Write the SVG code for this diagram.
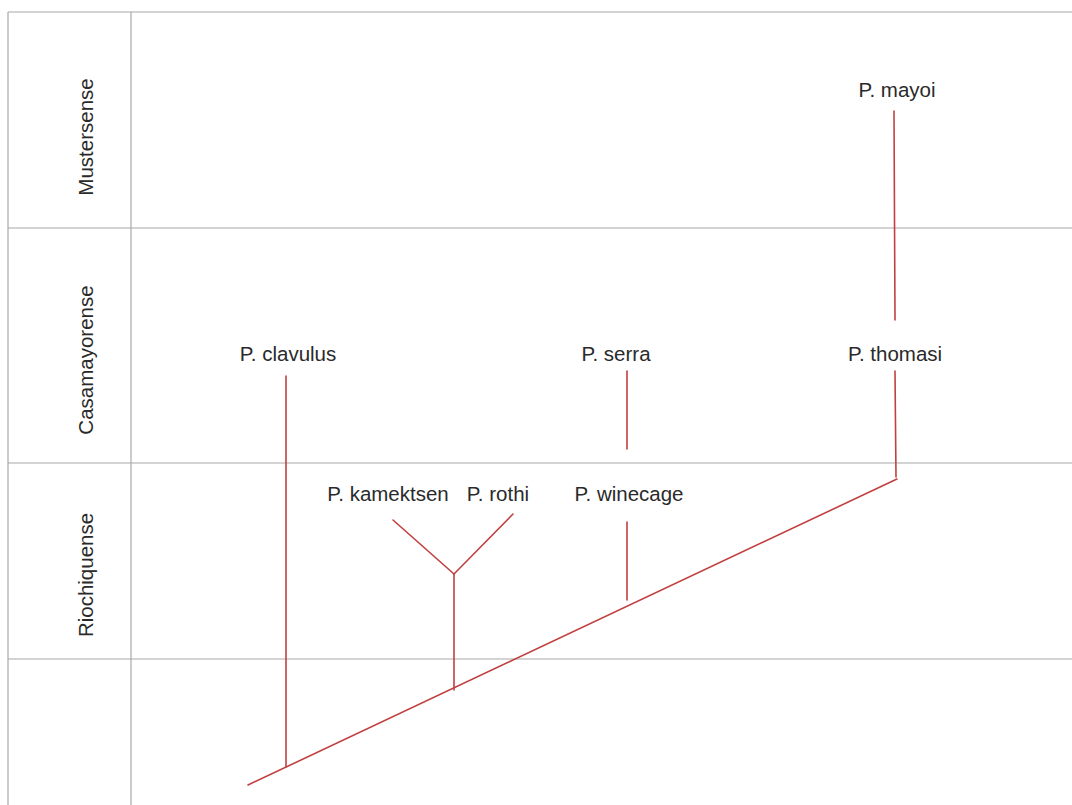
<svg xmlns="http://www.w3.org/2000/svg" width="1072" height="805" viewBox="0 0 1072 805">
<style>
.grid{stroke:#a8a8a8;stroke-width:1.2;fill:none}
.br{stroke:#c0403f;stroke-width:1.6;fill:none;stroke-linecap:round}
.t{font-family:"Liberation Sans",Arial,sans-serif;font-size:20.5px;fill:#2a2a2a;text-anchor:middle}
</style>
<rect width="1072" height="805" fill="#ffffff"/>
<g id="grid">
<line class="grid" x1="8" y1="12" x2="1072" y2="12"/>
<line class="grid" x1="8" y1="12" x2="8" y2="805"/>
<line class="grid" x1="131" y1="12" x2="131" y2="805"/>
<line class="grid" x1="8" y1="228" x2="1072" y2="228"/>
<line class="grid" x1="8" y1="463" x2="1072" y2="463"/>
<line class="grid" x1="8" y1="659" x2="1072" y2="659"/>
</g>
<g id="row-labels">
<text class="t" transform="translate(93,137) rotate(-90)">Mustersense</text>
<text class="t" transform="translate(93,360) rotate(-90)">Casamayorense</text>
<text class="t" transform="translate(93,575) rotate(-90)">Riochiquense</text>
</g>
<g id="connectors">
<line class="br" x1="248" y1="785" x2="897" y2="479"/>
<line class="br" x1="286" y1="376" x2="286" y2="767"/>
<line class="br" x1="454" y1="574" x2="454" y2="690"/>
<line class="br" x1="393" y1="520" x2="454" y2="574"/>
<line class="br" x1="513" y1="514" x2="454" y2="574"/>
<line class="br" x1="627" y1="522" x2="627" y2="600"/>
<line class="br" x1="627" y1="371" x2="627" y2="449"/>
<line class="br" x1="895" y1="371" x2="896" y2="477"/>
<line class="br" x1="894" y1="111" x2="895" y2="320"/>
</g>
<g id="n-mayoi"><text class="t" x="897" y="97">P. mayoi</text></g>
<g id="n-clavulus"><text class="t" x="288" y="361">P. clavulus</text></g>
<g id="n-serra"><text class="t" x="616" y="361">P. serra</text></g>
<g id="n-thomasi"><text class="t" x="895" y="361">P. thomasi</text></g>
<g id="n-kamektsen"><text class="t" x="388" y="501">P. kamektsen</text></g>
<g id="n-rothi"><text class="t" x="498" y="501">P. rothi</text></g>
<g id="n-winecage"><text class="t" x="629" y="501">P. winecage</text></g>
</svg>
